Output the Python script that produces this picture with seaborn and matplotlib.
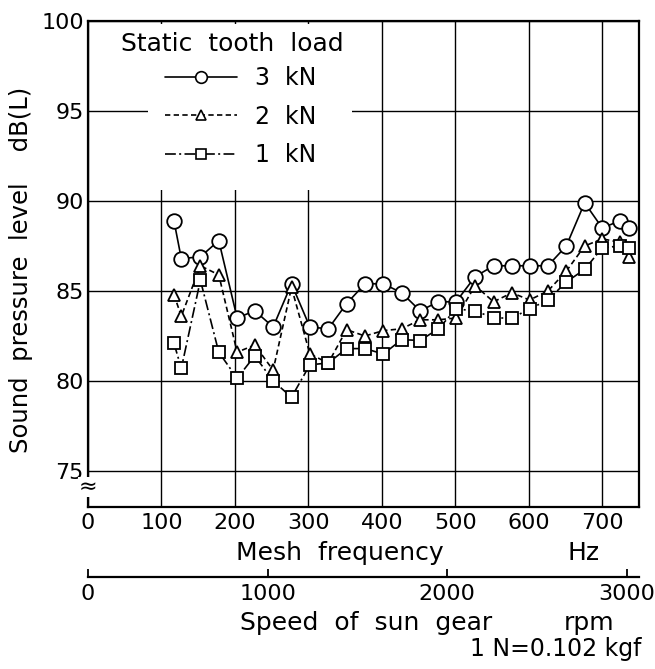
import numpy as np
import pandas as pd
import matplotlib
matplotlib.use("Agg")
import matplotlib.pyplot as plt
from matplotlib.patches import Rectangle
from matplotlib.lines import Line2D
import seaborn as sns

# Mesh frequency (Hz) of each measurement point
freq_hz = [117, 127, 153, 178, 203, 227, 252, 277, 302, 327, 352, 377, 402, 427,
           452, 477, 501, 527, 552, 577, 601, 626, 651, 676, 700, 724, 737]

# Sound pressure level dB(L) for each static tooth load
spl_3kn = [88.9, 86.8, 86.9, 87.8, 83.5, 83.9, 83.0, 85.4, 83.0, 82.9, 84.3, 85.4, 85.4, 84.9,
           83.9, 84.4, 84.4, 85.8, 86.4, 86.4, 86.4, 86.4, 87.5, 89.9, 88.5, 88.9, 88.5]
spl_2kn = [84.8, 83.6, 86.4, 85.9, 81.6, 82.0, 80.6, 85.2, 81.5, 81.0, 82.85, 82.5, 82.8, 82.9,
           83.4, 83.4, 83.5, 85.3, 84.4, 84.9, 84.5, 85.0, 86.1, 87.5, 87.9, 87.7, 86.9]
spl_1kn = [82.1, 80.7, 85.6, 81.6, 80.15, 81.4, 80.0, 79.1, 80.9, 81.0, 81.8, 81.8, 81.5, 82.3,
           82.25, 82.9, 84.0, 83.9, 83.5, 83.5, 84.0, 84.5, 85.5, 86.2, 87.4, 87.5, 87.4]

load_labels = ["3  kN", "2  kN", "1  kN"]
x_ticks = [0, 100, 200, 300, 400, 500, 600, 700]
y_ticks = [75, 80, 85, 90, 95, 100]
rpm_ticks = [0, 1000, 2000, 3000]

# mesh frequency -> sun gear speed
HZ_AT_3000_RPM = 733.0

sns.set_theme(style="white")
plt.rcParams["font.family"] = ["DejaVu Sans"]
plt.rcParams["text.color"] = "black"

FS_TICK = 16
FS_TEXT = 18
FS_LEG = 17
W, H = 655, 669
fig = plt.figure(figsize=(W / 100, H / 100), dpi=100)
ax_l, ax_r, ax_t, ax_b = 88, 639, 21, 507
ax = fig.add_axes([ax_l / W, 1 - ax_b / H, (ax_r - ax_l) / W, (ax_b - ax_t) / H])

styles = [
    dict(marker="o", ms=10.5, dashes=None),
    dict(marker="^", ms=8.5, dashes=(3.2, 2.0)),
    dict(marker="s", ms=9.0, dashes=(6.5, 2.0, 1.2, 2.0)),
]
series = [spl_3kn, spl_2kn, spl_1kn]

handles = []
for vals, lab, st in zip(series, load_labels, styles):
    df = pd.DataFrame({"freq": freq_hz, "spl": vals})
    sns.lineplot(data=df, x="freq", y="spl", ax=ax, color="black", lw=1.2,
                 marker=st["marker"], markersize=st["ms"], markerfacecolor="white",
                 markeredgecolor="black", markeredgewidth=1.3, zorder=5,
                 estimator=None, sort=False)
    line = ax.lines[-1]
    if st["dashes"] is not None:
        line.set_dashes(st["dashes"])
    h = Line2D([], [], color="black", lw=1.2, marker=st["marker"],
               markersize=st["ms"] * 0.8, markerfacecolor="white",
               markeredgecolor="black", markeredgewidth=1.2)
    if st["dashes"] is not None:
        h.set_dashes(st["dashes"])
    handles.append(h)

ax.set_xlim(0, 750)
ax.set_ylim(73, 100)
ax.set_xticks(x_ticks)
ax.set_yticks(y_ticks)
ax.grid(True, color="black", lw=1.0, zorder=0)
ax.set_axisbelow(True)
for s in ax.spines.values():
    s.set_color("black")
    s.set_linewidth(1.6)
ax.tick_params(axis="both", length=0, labelsize=FS_TICK, colors="black")
ax.tick_params(axis="x", pad=4)
ax.tick_params(axis="y", pad=3)
ax.set_xlabel("")
ax.set_ylabel("Sound  pressure  level    dB(L)", fontsize=FS_TEXT - 0.5,
              color="black", labelpad=6)
ax.yaxis.set_label_coords(-0.1, 0.488)

def px_to_ax(px, py):
    return (px - ax_l) / (ax_r - ax_l), (ax_b - py) / (ax_b - ax_t)

# blank area behind the legend
x0, y0 = px_to_ax(148, 190)
x1, y1 = px_to_ax(352, 24)
ax.add_patch(Rectangle((x0, y0), x1 - x0, y1 - y0, transform=ax.transAxes,
                       facecolor="white", edgecolor="none", zorder=1))

tx, ty = px_to_ax(121, 44)
ax.text(tx, ty, "Static  tooth  load", transform=ax.transAxes, fontsize=FS_TEXT,
        ha="left", va="center", color="black", zorder=6,
        bbox=dict(facecolor="white", edgecolor="none", pad=2))

lx, ly = px_to_ax(156, 57)
leg = ax.legend(handles, load_labels, loc="upper left", bbox_to_anchor=(lx, ly),
                fontsize=FS_LEG, frameon=False, borderpad=0.4, borderaxespad=0,
                handlelength=3.05, handletextpad=0.75, labelspacing=0.6,
                labelcolor="black")
leg.set_zorder(7)

# axis break mark on the y axis
ax.text(0, 74.1, "≈", transform=ax.transData, fontsize=16, ha="center", va="center",
        color="black", zorder=8, clip_on=False,
        bbox=dict(facecolor="white", edgecolor="none", pad=0.2))

# x axis titles
mx, my = px_to_ax(340, 553)
ax.text(mx, my, "Mesh  frequency", transform=ax.transAxes, fontsize=FS_TEXT,
        ha="center", va="center", color="black")
hx, _ = px_to_ax(584, 553)
ax.text(hx, my, "Hz", transform=ax.transAxes, fontsize=FS_TEXT,
        ha="center", va="center", color="black")

# secondary scale: speed of the sun gear
_, sy = px_to_ax(0, 577)
sec = ax.secondary_xaxis(sy, functions=(lambda f: f * 3000.0 / HZ_AT_3000_RPM,
                                        lambda r: r * HZ_AT_3000_RPM / 3000.0))
sec.set_xticks(rpm_ticks)
sec.tick_params(axis="x", direction="in", length=6, width=1.3, pad=5,
                labelsize=FS_TICK, colors="black")
sec.spines["bottom"].set_linewidth(1.6)
sec.spines["bottom"].set_color("black")

spx, spy = px_to_ax(366, 623)
ax.text(spx, spy, "Speed  of  sun  gear", transform=ax.transAxes, fontsize=FS_TEXT,
        ha="center", va="center", color="black")
rx, _ = px_to_ax(589, 623)
ax.text(rx, spy, "rpm", transform=ax.transAxes, fontsize=FS_TEXT,
        ha="center", va="center", color="black")
nx, ny = px_to_ax(641, 649)
ax.text(nx, ny, "1 N=0.102 kgf", transform=ax.transAxes, fontsize=FS_TEXT - 1,
        ha="right", va="center", color="black")

fig.savefig("out.png", dpi=100, facecolor="white")
